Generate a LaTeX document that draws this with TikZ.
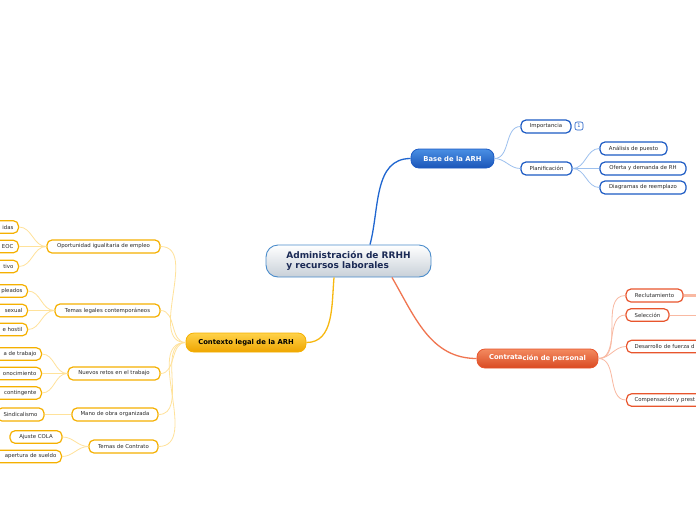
\documentclass[tikz,border=0pt]{standalone}
\usepackage{fontspec}
\setmainfont{DejaVu Sans}
\definecolor{bdark}{HTML}{1D5BC4}
\definecolor{btop}{HTML}{4A8FE4}
\definecolor{bbot}{HTML}{1A55B8}
\definecolor{blight}{HTML}{9CC0EE}
\definecolor{bmain}{HTML}{1F66D0}
\definecolor{odark}{HTML}{E8552D}
\definecolor{otop}{HTML}{F38A60}
\definecolor{obot}{HTML}{D94A22}
\definecolor{olight}{HTML}{F9B9A2}
\definecolor{omain}{HTML}{F07550}
\definecolor{ydark}{HTML}{F5B000}
\definecolor{ytop}{HTML}{FFD24A}
\definecolor{ybot}{HTML}{EEA500}
\definecolor{ylight}{HTML}{FFE29A}
\definecolor{ymain}{HTML}{F7B810}
\definecolor{cborder}{HTML}{4A8CCB}
\definecolor{ctext}{HTML}{1B2A55}
\definecolor{ctop}{HTML}{FFFFFF}
\definecolor{cbot}{HTML}{C8D0D8}
\definecolor{stext}{HTML}{2A2A2A}
\tikzset{
  sbox/.style={draw, rounded corners=5pt, line width=1.2pt, fill=white, inner sep=0pt,
    font=\fontsize{5.4}{6}\selectfont, text=stext},
  bbox/.style={sbox, draw=bdark},
  obox/.style={sbox, draw=odark},
  ybox/.style={sbox, draw=ydark},
  yleft/.style={ybox, anchor=east, text width=70pt, align=right, inner xsep=5pt, minimum height=12.5pt},
  oright/.style={obox, anchor=west, text width=90pt, align=left, inner xsep=8pt, minimum height=12.5pt},
  mainbox/.style={draw, rounded corners=8pt, line width=0.8pt, inner sep=0pt, text=white,
    font=\fontsize{6.8}{8}\selectfont\bfseries},
  bline/.style={blight, line width=0.8pt},
  oline/.style={olight, line width=0.8pt},
  yline/.style={ylight, line width=0.8pt},
}
\begin{document}
\begin{tikzpicture}[x=1pt,y=-1pt]
\clip (0,0) rectangle (696,520);
\fill[white] (0,0) rectangle (696,520);

% central node
\node[draw=cborder, line width=0.9pt, rounded corners=12pt, top color=ctop, bottom color=cbot,
  minimum width=165pt, minimum height=32pt, inner sep=0pt, align=left, text=ctext,
  font=\fontsize{9}{10}\selectfont\bfseries] (c) at (348.5,261) {Administración de RRHH\\y recursos laborales};

% blue branch
\node[mainbox, draw=bdark, top color=btop, bottom color=bbot, minimum width=83pt, minimum height=19pt] (base) at (452.5,158.5) {Base de la ARH};
\node[bbox, minimum width=50pt, minimum height=13pt] (imp) at (546,126.5) {Importancia};
\node[draw=bdark, line width=0.6pt, rounded corners=2pt, fill=white, minimum width=8pt, minimum height=8pt, inner sep=0pt,
  font=\fontsize{5}{5}\selectfont, text=bdark] (badge) at (579,126) {1};
\node[bbox, minimum width=51pt, minimum height=13pt] (plan) at (546.5,168.5) {Planificación};
\node[bbox, minimum width=67pt, minimum height=13pt] (anal) at (633.5,148.5) {Análisis de puesto};
\node[bbox, minimum width=86pt, minimum height=13pt] (ofer) at (643,168.5) {Oferta y demanda de RH};
\node[bbox, minimum width=86pt, minimum height=13pt] (diag) at (643,187.5) {Diagramas de reemplazo};

\draw[bmain, line width=1.3pt] ([xshift=21.5pt]c.north) to[out=75,in=180] (base.west);
\draw[bline] (base.east) to[out=0,in=180] (imp.west);
\draw[bline] (base.east) to[out=0,in=180] (plan.west);
\draw[bline] (plan.east) to[out=0,in=180] (anal.west);
\draw[bline] (plan.east) to[out=0,in=180] (ofer.west);
\draw[bline] (plan.east) to[out=0,in=180] (diag.west);

% orange branch
\node[mainbox, draw=odark, top color=otop, bottom color=obot, minimum width=121pt, minimum height=19pt] (contr) at (537.5,358.5) {Contrata\raisebox{-0.8pt}{ción de personal}};
\node[obox, minimum width=57pt, minimum height=13pt] (recl) at (654.5,295.5) {Reclutamiento};
\node[obox, minimum width=43pt, minimum height=12.5pt] (sel) at (647.5,315) {Selección};
\node[oright] (desa) at (626,346.5) {Desarrollo de fuerza d};
\node[oright] (comp) at (626,400) {Compensación y prest};
\coordinate (recl-out) at (700,295.5);
\coordinate (sel-out) at (700,315);

\draw[omain, line width=1.3pt] ([xshift=43.5pt]c.south) to[out=-60,in=180] (contr.west);
\draw[oline] (contr.east) to[out=0,in=180] (recl.west);
\draw[oline] (contr.east) to[out=0,in=180] (sel.west);
\draw[oline] (contr.east) to[out=0,in=180] (desa.west);
\draw[oline] (contr.east) to[out=0,in=180] (comp.west);
\draw[olight, line width=2.5pt] (recl.east) -- (recl-out);
\draw[olight, line width=1pt] (sel.east) -- (sel-out);

% yellow branch
\node[mainbox, draw=ydark, top color=ytop, bottom color=ybot, text=black, minimum width=120pt, minimum height=19pt] (ctx) at (246,342.5) {Contexto legal de la ARH};
\node[ybox, minimum width=113pt, minimum height=13pt] (opor) at (103.5,246.5) {Oportunidad igualitaria de empleo};
\node[ybox, minimum width=105pt, minimum height=13pt] (tleg) at (107.5,310.5) {Temas legales contemporáneos};
\node[ybox, minimum width=92pt, minimum height=13pt] (nuev) at (114,373.5) {Nuevos retos en el trabajo};
\node[ybox, minimum width=86pt, minimum height=13pt] (mano) at (115,414.5) {Mano de obra organizada};
\node[ybox, minimum width=69pt, minimum height=13pt] (tcon) at (123.5,446.5) {Temas de Contrato};

\node[yleft] (g1) at (19,227) {idas};
\node[yleft] (g2) at (19,246.5) {EOC};
\node[yleft] (g3) at (19,266.5) {tivo};
\node[yleft] (g4) at (28,291) {pleados};
\node[yleft] (g5) at (28,310.5) {sexual};
\node[yleft] (g6) at (28,329.5) {e hostil};
\node[yleft] (g7) at (42,354) {a de trabajo};
\node[yleft] (g8) at (42,373.5) {onocimiento};
\node[yleft] (g9) at (42,393) {contingente};
\node[ybox, minimum width=47pt, minimum height=13pt] (g10) at (20.5,414.5) {Sindicalismo};
\node[ybox, minimum width=52pt, minimum height=12.5pt] (g11) at (36,437) {Ajuste COLA};
\node[yleft] (g12) at (62,456.5) {apertura de sueldo};

\draw[ymain, line width=1.3pt] ([xshift=-14.5pt]c.south) to[out=-95,in=0] (ctx.east);
\foreach \n in {opor,tleg,nuev,mano,tcon}
  \draw[yline] (ctx.west) to[out=180,in=0] (\n.east);
\foreach \n in {g1,g2,g3}
  \draw[yline] (opor.west) to[out=180,in=0] (\n.east);
\foreach \n in {g4,g5,g6}
  \draw[yline] (tleg.west) to[out=180,in=0] (\n.east);
\foreach \n in {g7,g8,g9}
  \draw[yline] (nuev.west) to[out=180,in=0] (\n.east);
\draw[yline] (mano.west) -- (g10.east);
\foreach \n in {g11,g12}
  \draw[yline] (tcon.west) to[out=180,in=0] (\n.east);
\end{tikzpicture}
\end{document}
